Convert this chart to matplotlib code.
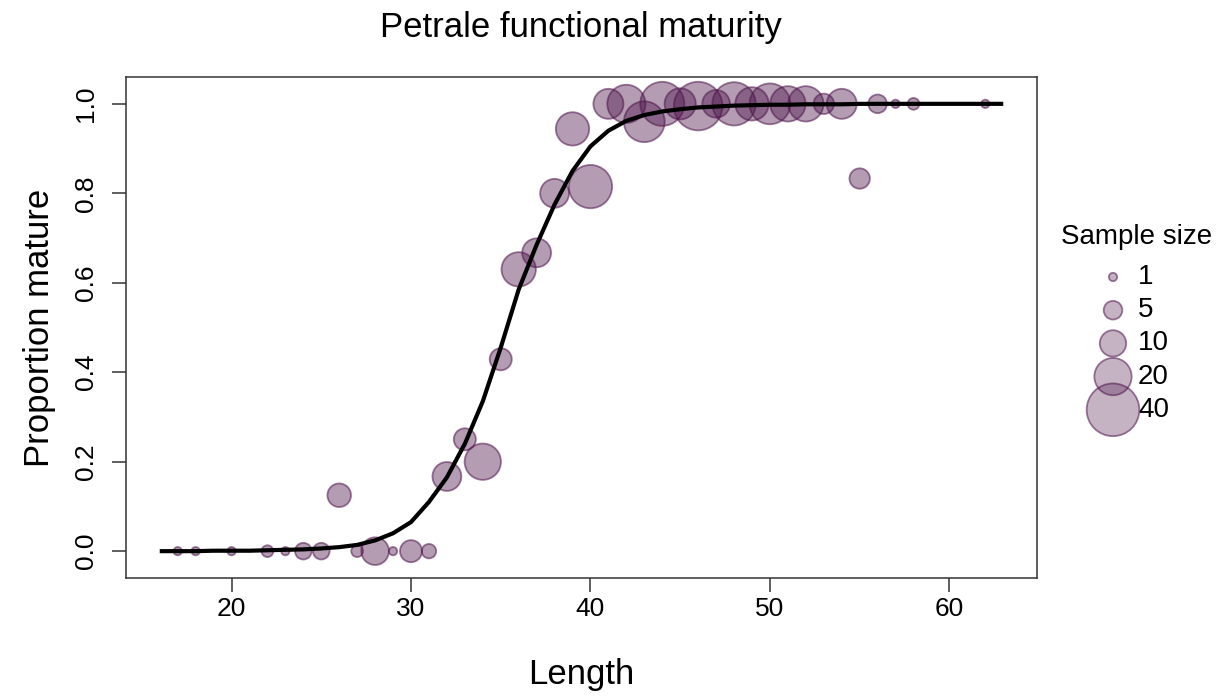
import numpy as np
import matplotlib
matplotlib.use("Agg")
import matplotlib.pyplot as plt

plt.rcParams['font.family'] = ['Liberation Sans', 'DejaVu Sans']

# observed proportions by length bin
lengths = [17, 18, 20, 22, 23, 24, 25, 26, 27, 28, 29, 30, 31, 32, 33, 34, 35,
           36, 37, 38, 39, 40, 41, 42, 43, 44, 45, 46, 47, 48, 49, 50, 51, 52,
           53, 54, 55, 56, 57, 58, 62]
prop_mature = [0.0, 0.0, 0.0, 0.0, 0.0, 0.0, 0.0, 0.125, 0.0, 0.0, 0.0, 0.0, 0.0,
               0.167, 0.25, 0.20, 0.429, 0.63, 0.667, 0.80, 0.944, 0.815, 1.0,
               1.0, 0.96, 1.0, 1.0, 0.995, 1.0, 1.0, 1.0, 1.0, 1.0, 1.0, 1.0,
               1.0, 0.833, 1.0, 1.0, 1.0, 1.0]
sample_size = [1, 1, 1, 2, 1, 4, 4, 8, 2, 11, 1, 7, 3, 12, 7, 19, 7, 17, 12,
               12, 16, 27, 13, 21, 24, 28, 14, 34, 11, 27, 16, 24, 18, 18, 6,
               13, 6, 5, 1, 2, 1]

# fitted curve
curve_len = list(range(16, 64))
curve_prop = [0.000, 0.000, 0.000, 0.001, 0.001, 0.001, 0.002, 0.003, 0.004,
              0.006, 0.009, 0.014, 0.024, 0.040, 0.065, 0.110, 0.165, 0.240,
              0.335, 0.455, 0.585, 0.685, 0.775, 0.850, 0.905, 0.940, 0.962,
              0.975, 0.983, 0.988, 0.992, 0.994, 0.996, 0.997, 0.998, 0.998,
              0.999, 0.999, 0.999, 1.000, 1.000, 1.000, 1.000, 1.000, 1.000,
              1.000, 1.000, 1.000]

legend_sizes = [1, 5, 10, 20, 40]
x_ticks = [20, 30, 40, 50, 60]
y_ticks = [0.0, 0.2, 0.4, 0.6, 0.8, 1.0]

SIZE_SCALE = 36.0
face = (0.30, 0.08, 0.29, 0.42)
edge = (0.30, 0.08, 0.29, 0.55)

W, H = 1223, 696
fig = plt.figure(figsize=(W / 100, H / 100), dpi=100)
ax = fig.add_axes([126 / W, 1 - 578 / H, (1037 - 126) / W, (578 - 77) / H])

ax.scatter(lengths, prop_mature, s=np.array(sample_size) * SIZE_SCALE,
           facecolor=face, edgecolor=edge, linewidths=1.3, zorder=2)
ax.plot(curve_len, curve_prop, color='black', lw=3.0, zorder=3,
        solid_capstyle='butt')

ax.set_xlim(14.12, 64.88)
ax.set_ylim(-0.06, 1.06)
ax.set_xticks(x_ticks)
ax.set_yticks(y_ticks)
ax.set_yticklabels([f"{v:.1f}" for v in y_ticks], rotation=90, va='center')
ax.tick_params(axis='both', direction='out', length=10, width=1.1,
               labelsize=19, color='#333333')
ax.tick_params(axis='x', pad=4)
ax.tick_params(axis='y', pad=10)
for sp in ax.spines.values():
    sp.set_color('#333333')
    sp.set_linewidth(1.1)

ax.set_xlabel("Length", fontsize=25, labelpad=26)
ax.set_ylabel("Proportion mature", fontsize=25, labelpad=13)
fig.text(581 / W, 1 - 27 / H, "Petrale functional maturity", fontsize=25,
         ha='center', va='center')

# size legend on the right, in pixel coordinates
lax = fig.add_axes([0, 0, 1, 1])
lax.set_xlim(0, W)
lax.set_ylim(H, 0)
lax.axis('off')
leg_x = 1113
leg_y0, leg_step = 277, 33.2
leg_y = [leg_y0 + i * leg_step for i in range(len(legend_sizes))]
lax.scatter([leg_x] * len(legend_sizes), leg_y,
            s=np.array(legend_sizes) * SIZE_SCALE,
            facecolor=(0.30, 0.08, 0.29, 0.32), edgecolor=edge, linewidths=1.3)
for yy, n in zip(leg_y, legend_sizes):
    lax.text(leg_x + 25, yy, str(n), fontsize=20, va='center', ha='left')
lax.text(1137, 237, "Sample size", fontsize=20, ha='center', va='center')

fig.savefig("out.png", dpi=100)
